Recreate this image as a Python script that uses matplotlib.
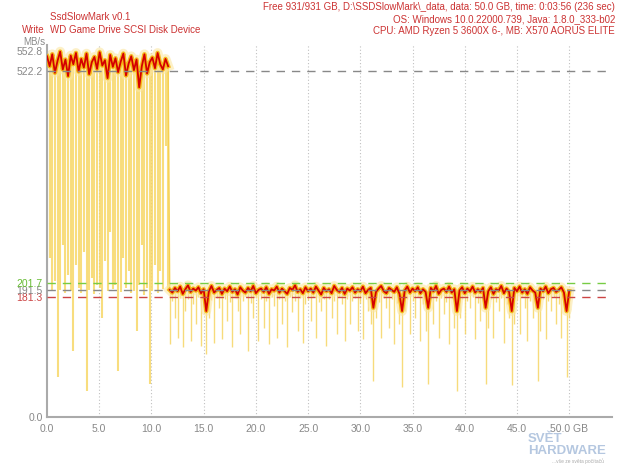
import matplotlib
matplotlib.use('Agg')
import matplotlib.pyplot as plt
import numpy as np

# SsdSlowMark zapis, WD Game Drive (MB/s)

# faze 1: 0 - 11.6 GB (rychla cache)
faze1_prumer = [545, 530, 548, 520, 538, 552, 525, 540, 515, 546,
                533, 550, 522, 541, 528, 549, 518, 536, 544, 526,
                551, 531, 539, 512, 547, 529, 542, 521, 537, 549,
                516, 534, 545, 524, 540, 498, 530, 548, 519, 536,
                543, 527, 550, 533, 525, 541, 530]
faze1_minimum = [195, 240, 190, 205, 60, 192, 260, 188, 215, 190,
                 100, 230, 195, 188, 250, 40, 192, 210, 186, 200,
                 195, 150, 235, 190, 280, 193, 200, 70, 189, 240,
                 195, 220, 187, 190, 130, 200, 260, 185, 195, 50,
                 191, 230, 188, 220, 194, 410, 190]

# faze 2: 11.75 - 50 GB (po zaplneni cache)
faze2_prumer = [192, 188, 195, 190, 197, 186, 193, 199, 189, 194,
                191, 196, 187, 193, 160, 190, 198, 188, 192, 195,
                186, 194, 190, 197, 189, 193, 185, 196, 191, 188,
                195, 190, 198, 187, 192, 194, 189, 196, 186, 193,
                191, 197, 188, 194, 190, 186, 195, 192, 199, 189,
                193, 187, 196, 190, 194, 188, 197, 191, 185, 195,
                190, 193, 187, 198, 192, 189, 195, 186, 194, 191,
                196, 188, 193, 190, 197, 187, 192, 195, 165, 189,
                194, 198, 190, 187, 195, 192, 189, 196, 186, 160,
                191, 197, 188, 194, 190, 196, 187, 193, 189, 165,
                195, 190, 198, 186, 192, 194, 189, 197, 188, 193,
                160, 191, 196, 187, 194, 190, 197, 188, 193, 189,
                195, 165, 190, 196, 186, 193, 191, 198, 187, 194,
                189, 160, 195, 190, 197, 188, 193, 186, 196, 191,
                188, 165, 194, 190, 197, 187, 193, 195, 189, 192,
                196, 188, 160, 190]
faze2_minimum = [110, 175, 150, 120, 180, 105, 160, 178, 115, 170,
                 140, 182, 108, 176, 95, 150, 177, 112, 180, 165,
                 118, 179, 145, 174, 105, 181, 160, 125, 176, 183,
                 100, 172, 150, 180, 115, 178, 135, 176, 110, 182,
                 168, 120, 179, 140, 176, 105, 181, 158, 175, 130,
                 180, 112, 170, 177, 145, 181, 120, 174, 160, 179,
                 108, 178, 150, 176, 125, 182, 170, 115, 179, 140,
                 176, 180, 130, 172, 118, 178, 160, 140, 55, 150,
                 174, 120, 180, 165, 135, 178, 110, 172, 140, 45,
                 160, 179, 125, 176, 150, 181, 115, 170, 130, 50,
                 178, 140, 176, 120, 180, 155, 174, 110, 179, 135,
                 40, 150, 178, 125, 176, 165, 181, 118, 172, 145,
                 176, 50, 135, 179, 120, 174, 160, 180, 112, 170,
                 150, 48, 140, 177, 125, 181, 165, 115, 176, 150,
                 172, 55, 130, 179, 118, 175, 160, 181, 140, 170,
                 120, 165, 60, 150]

urovne = [522.2, 201.7, 191.5, 181.3]          # prumer cache, max, prumer, min
urovne_barvy = ['#888888', '#77cc44', '#888888', '#cc4444']
y_ticky = [0.0, 181.3, 191.5, 201.7, 522.2, 552.8]
y_barvy = ['#888888', '#cc4444', '#888888', '#66bb33', '#888888', '#888888']
x_ticky = [0, 5, 10, 15, 20, 25, 30, 35, 40, 45, 50]
x_popisky = ['0.0', '5.0', '10.0', '15.0', '20.0', '25.0', '30.0', '35.0',
             '40.0', '45.0', '50.0 GB']

hlavicka_vlevo = ['SsdSlowMark v0.1', 'WD Game Drive SCSI Disk Device']
hlavicka_vpravo = ['Free 931/931 GB, D:\\SSDSlowMark\\_data, data: 50.0 GB, time: 0:03:56 (236 sec)',
                   'OS: Windows 10.0.22000.739, Java: 1.8.0_333-b02',
                   'CPU: AMD Ryzen 5 3600X 6-, MB: X570 AORUS ELITE']

plt.rcParams['font.family'] = ['Liberation Sans', 'DejaVu Sans']

x1 = np.linspace(0.0, 11.6, len(faze1_prumer))
x2 = np.linspace(11.75, 50.0, len(faze2_prumer))

fig = plt.figure(figsize=(6.2, 4.65), dpi=100)
ax = fig.add_axes([47/620, 48/465, 565/620, 372/465])

cerv = '#cc3333'
seda = '#888888'

# svisle mrizky
for t in x_ticky[1:]:
    ax.axvline(t, color='#c0c0c0', linestyle=(0, (1, 2)), linewidth=0.8, zorder=0)

# surova data - zluta svisle cary
ax.vlines(x1, faze1_minimum, faze1_prumer, color='#f7d55e', linewidth=1.5, alpha=0.8, zorder=1)
ax.vlines(x2, faze2_minimum, faze2_prumer, color='#f6d35a', linewidth=1.0, alpha=0.8, zorder=1)

for xx, yy in [(x1, faze1_prumer), (x2, faze2_prumer)]:
    ax.plot(xx, yy, color='#fbe6a2', linewidth=7, alpha=0.6, zorder=2)
    ax.plot(xx, yy, color='#f5b000', linewidth=3.2, alpha=0.85, zorder=3)
    ax.plot(xx, yy, color='#d40000', linewidth=1.3, zorder=4)
# prechod mezi fazemi
ax.plot([x1[-1], x2[0]], [faze1_prumer[-1], faze2_prumer[0]], color='#f6d050',
        linewidth=1.0, zorder=1)

for u, c in zip(urovne, urovne_barvy):
    ax.axhline(u, color=c, linestyle=(0, (6, 5)), linewidth=1.0, zorder=5)

ax.set_xlim(0, 54.1)
ax.set_ylim(0, 562)
for s in ['top', 'right']:
    ax.spines[s].set_visible(False)
for s in ['left', 'bottom']:
    ax.spines[s].set_color('#aaaaaa')
    ax.spines[s].set_linewidth(1.5)

ax.set_xticks(x_ticky)
ax.set_xticklabels(x_popisky)
ax.set_yticks(y_ticky)
ax.set_yticklabels(['%.1f' % v for v in y_ticky])
ax.tick_params(axis='both', length=0, labelsize=7.5, labelcolor=seda, pad=3)
for lab, c in zip(ax.get_yticklabels(), y_barvy):
    lab.set_color(c)
ax.tick_params(axis='x', pad=5)

fs = 7.0
fig.text(45/620, 1 - 42/465, 'MB/s', ha='right', va='center', fontsize=fs, color=seda)
fig.text(50/620, 1 - 17/465, hlavicka_vlevo[0], ha='left', va='center', fontsize=fs, color=cerv)
fig.text(45/620, 1 - 30/465, 'Write', ha='right', va='center', fontsize=fs, color=cerv)
fig.text(50/620, 1 - 30/465, hlavicka_vlevo[1], ha='left', va='center', fontsize=fs, color=cerv)
for i, t in enumerate(hlavicka_vpravo):
    fig.text(615/620, 1 - (7 + 12 * i)/465, t, ha='right', va='center', fontsize=fs, color=cerv)

# vodoznak
fig.text(528/620, 1 - 439/465, 'SVĚT', ha='left', va='center', fontsize=9.5,
         color='#a8bedb', fontweight='bold', alpha=0.85)
fig.text(528/620, 1 - 451/465, 'HARDWARE', ha='left', va='center', fontsize=9.5,
         color='#a8bedb', fontweight='bold', alpha=0.85)
fig.text(604/620, 1 - 461/465, '...vše ze světa počítačů', ha='right', va='center',
         fontsize=3.5, color='#aaaaaa')

fig.savefig('out.png', dpi=100)
